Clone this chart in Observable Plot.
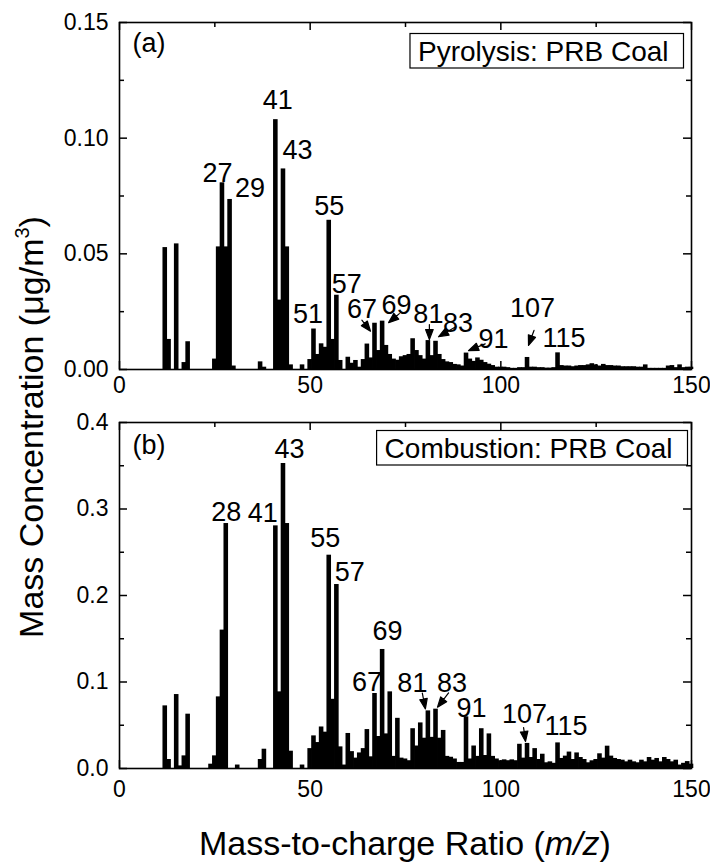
<!DOCTYPE html>
<html><head><meta charset="utf-8">
<script src="https://cdn.jsdelivr.net/npm/d3@7"></script>
<script src="https://cdn.jsdelivr.net/npm/@observablehq/plot@0.6"></script>
<style>
body{margin:0;background:#fff;}
#wrap{position:relative;width:710px;height:865px;font-family:"Liberation Sans",Arial,Helvetica,sans-serif;color:#000;overflow:hidden;}
#pa{position:absolute;left:0;top:0;}
#pb{position:absolute;left:0;top:405px;}
#ytitle{position:absolute;left:-269px;top:410px;width:600px;height:34px;line-height:34px;font-size:34px;text-align:center;white-space:nowrap;transform:rotate(-90deg);}
#xtitle{position:absolute;left:100px;top:826px;width:610px;height:34px;line-height:34px;font-size:34px;text-align:center;white-space:nowrap;}
.sup3{font-size:20px;position:relative;top:-14px;}
</style></head><body>
<div id="wrap">
  <div id="pa"></div>
  <div id="pb"></div>
  <div id="ytitle">Mass Concentration (μg/m<span class="sup3">3</span>)</div>
  <div id="xtitle">Mass-to-charge Ratio (<i>m/z</i>)</div>
</div>
<script>
// m/z categories
const mz = [12,13,14,15,16,17,18,19,20,21,22,23,24,25,26,27,28,29,30,31,32,33,34,35,36,37,38,39,40,41,42,43,44,45,46,47,48,49,50,51,52,53,54,55,56,57,58,59,60,61,62,63,64,65,66,67,68,69,70,71,72,73,74,75,76,77,78,79,80,81,82,83,84,85,86,87,88,89,90,91,92,93,94,95,96,97,98,99,100,101,102,103,104,105,106,107,108,109,110,111,112,113,114,115,116,117,118,119,120,121,122,123,124,125,126,127,128,129,130,131,132,133,134,135,136,137,138,139,140,141,142,143,144,145,146,147,148,149,150];

// (a) Pyrolysis: PRB Coal, µg/m3
const pyrolysis = [0.0527,0.013,0,0.0543,0,0.003,0.012,0,0,0,0,0,0,0.0045,0.053,0.0807,0.053,0.0735,0.0015,0,0,0,0,0,0,0.0033,0.001,0,0,0.108,0.030,0.0867,0.053,0.002,0,0,0.002,0,0.0043,0.0175,0.0065,0.0111,0.0096,0.0645,0.013,0.0321,0.0039,0,0.0053,0.0027,0.0039,0.001,0.0043,0.011,0.005,0.020,0.0082,0.0209,0.0104,0.0065,0.0045,0.004,0.0055,0.006,0.0065,0.0133,0.0082,0.006,0.0045,0.0125,0.006,0.0122,0.0065,0.0043,0.0033,0.003,0.0022,0.002,0.0015,0.0071,0.0045,0.0035,0.005,0.004,0.003,0.0023,0.0017,0.001,0.001,0.001,0.0008,0.0005,0.0005,0.0008,0.0008,0.0052,0.001,0.001,0.0008,0.0008,0.0006,0.0006,0.0008,0.0072,0.0017,0.0015,0.0015,0.0012,0.0015,0.0017,0.0017,0.002,0.0025,0.002,0.0015,0.0022,0.0017,0.0017,0.0015,0.0015,0.0012,0.0012,0.0012,0.0012,0.001,0.001,0.002,0.0005,0.0005,0.0005,0.0005,0.0005,0.0015,0.0017,0.0008,0.002,0.0008,0.001,0.001];

// (b) Combustion: PRB Coal, µg/m3
const combustion = [0.0724,0.0104,0,0.0855,0.003,0.0146,0.0628,0,0,0,0,0,0.005,0.0146,0.0828,0.160,0.2832,0,0,0.004,0,0,0,0,0,0.0104,0.0223,0,0,0.2805,0.0886,0.3526,0.2832,0.020,0,0,0.004,0,0.023,0.0377,0.030,0.048,0.042,0.2466,0.080,0.2127,0.025,0.004,0.0405,0.0195,0.012,0.018,0.023,0.045,0.0135,0.0867,0.037,0.1376,0.040,0.0886,0.014,0.058,0.012,0.011,0.009,0.046,0.026,0.0527,0.035,0.0666,0.036,0.0686,0.035,0.044,0.014,0.013,0.011,0.007,0.007,0.0597,0.011,0.026,0.014,0.046,0.015,0.040,0.014,0.011,0.009,0.010,0.009,0.010,0.009,0.028,0.012,0.029,0.0127,0.023,0.0104,0.0165,0.0066,0.0077,0.006,0.0296,0.0116,0.0143,0.019,0.0104,0.018,0.0127,0.0104,0.0066,0.0089,0.0104,0.017,0.012,0.0258,0.0143,0.0116,0.0104,0.0096,0.0077,0.0096,0.0077,0.0066,0.0096,0.0077,0.0127,0.0096,0.0116,0.0077,0.0127,0.0104,0.0077,0.0096,0.004,0.006,0.008,0.005];

// tick values
const xMajor = [0, 50, 100, 150];
const xMinor = [25, 75, 125];
const yMajorA = [0, 0.05, 0.10, 0.15];
const yMinorA = [0.025, 0.075, 0.125];
const yMajorB = [0, 0.1, 0.2, 0.3, 0.4];
const yMinorB = [0.05, 0.15, 0.25, 0.35];

// labelled peaks
const peaksA = [27, 29, 41, 43, 51, 55, 57, 67, 69, 81, 83, 91, 107, 115];
const peaksB = [28, 41, 43, 55, 57, 67, 69, 81, 83, 91, 107, 115];
const arrowPeaksA = [67, 69, 81, 83, 91, 107];
const arrowPeaksB = [81, 83, 107];

// annotation layout (pixel offsets from the bar top)
const labelOffA = {27:[-5,-1],29:[20,-2],41:[2,-11],43:[14,-10],51:[-6,-6],55:[0,-5],57:[10,-2],67:[-13,-5],69:[14,-7],81:[0,-18],83:[22,-9],91:[27,-5],107:[5,-40],115:[6,-6]};
const labelOffB = {28:[0,-3],41:[-13,-4],43:[6,-6],55:[-4,-8],57:[13,-4],67:[-8,-3],69:[5,-9],81:[-16,-19],83:[16,-17],91:[5,0],107:[-3,-20],115:[8,-8]};
// [dx, dy, rotate, length]
const arrowOffA = {67:[-4.5,8,142,14],69:[6,1.5,230,14],81:[1,-1,180,15],83:[2.5,-4.5,240,20],91:[2,-2.5,248,18],107:[1,-12,200,16]};
const arrowOffB = {81:[-3,-2,169,16],83:[1.5,-2,218,18],107:[-2,-2,172,14]};

const FONT = '"Liberation Sans", Arial, Helvetica, sans-serif';

const arrowShape = {
  draw(ctx, l) {
    const h = Math.min(10, l), w = 3.8;
    ctx.moveTo(0, 0);
    ctx.lineTo(0, -l + h);
    ctx.moveTo(0, -l);
    ctx.lineTo(-w, -l + h);
    ctx.lineTo(w, -l + h);
    ctx.closePath();
  }
};

function panel(cfg) {
  const W = 710, mL = 119, mR = 19;
  const iw = W - mL - mR;
  const ih = cfg.height - cfg.marginTop - cfg.marginBottom;
  const data = mz.map((m, i) => ({mz: m, v: cfg.values[i]})).filter(d => d.v > 0);
  const val = new Map(data.map(d => [d.mz, d.v]));
  const tk = {stroke: "black", strokeWidth: 1.5};
  const marks = [
    Plot.rectY(data, {x1: d => d.mz - 0.6, x2: d => d.mz + 0.6, y: "v", fill: "black"}),
    Plot.tickY(cfg.yMajor, {y: d => d, insetRight: iw - 8, ...tk}),
    Plot.tickY(cfg.yMinor, {y: d => d, insetRight: iw - 5, ...tk}),
    Plot.tickY(cfg.yMajor, {y: d => d, insetLeft: iw - 8, ...tk}),
    Plot.tickY(cfg.yMinor, {y: d => d, insetLeft: iw - 5, ...tk}),
    Plot.tickX(xMajor, {x: d => d, insetTop: ih - 8, ...tk}),
    Plot.tickX(xMinor, {x: d => d, insetTop: ih - 5, ...tk}),
    Plot.tickX(xMajor, {x: d => d, insetBottom: ih - 8, ...tk}),
    Plot.tickX(xMinor, {x: d => d, insetBottom: ih - 5, ...tk}),
    Plot.frame({stroke: "black", strokeWidth: 1.6}),
    Plot.axisY({ticks: cfg.yMajor, tickSize: 0, tickPadding: 11, tickFormat: cfg.yFmt, fontSize: 23, label: null}),
    Plot.axisX({ticks: xMajor, tickSize: 0, tickPadding: cfg.xPad, fontSize: 23, label: null}),
    Plot.text([cfg.tag], {frameAnchor: "top-left", text: d => d, dx: 13, dy: cfg.tagDy, lineAnchor: "top", textAnchor: "start", fontSize: 27, fill: "black"}),
    Plot.text([cfg.box], {frameAnchor: "top-right", text: d => d, dx: cfg.boxDx, dy: cfg.boxDy, lineAnchor: "bottom", textAnchor: "end", fontSize: 28, fill: "black"})
  ];
  for (const p of cfg.peaks) {
    const [dx, dy] = cfg.labelOff[p];
    marks.push(Plot.text([p], {x: d => d, y: d => val.get(d), text: d => String(d), dx, dy, lineAnchor: "bottom", textAnchor: "middle", fontSize: 27, fill: "black"}));
  }
  for (const p of cfg.arrows) {
    const [dx, dy, rot, len] = cfg.arrowOff[p];
    marks.push(Plot.vector([p], {x: d => d, y: d => val.get(d), anchor: "end", rotate: rot, length: len, dx, dy, shape: arrowShape, fill: "black", stroke: "black", strokeWidth: 1.2}));
  }
  return Plot.plot({
    width: W, height: cfg.height,
    marginLeft: mL, marginRight: mR, marginTop: cfg.marginTop, marginBottom: cfg.marginBottom,
    x: {domain: [0, 150]},
    y: {domain: cfg.yDomain},
    style: {fontFamily: FONT, fontSize: "23px", color: "black", background: "transparent", overflow: "visible"},
    marks
  });
}

function boxify(svg, label) {
  const texts = Array.from(svg.querySelectorAll("text")).filter(t => t.textContent.trim() === label);
  texts.forEach(t => {
    const b = t.getBBox();
    const r = document.createElementNS("http://www.w3.org/2000/svg", "rect");
    r.setAttribute("x", b.x - 8);
    r.setAttribute("y", b.y - 2);
    r.setAttribute("width", b.width + 23);
    r.setAttribute("height", b.height + 3.5);
    r.setAttribute("fill", "none");
    r.setAttribute("stroke", "black");
    r.setAttribute("stroke-width", 1.2);
    const tr = t.getAttribute("transform");
    if (tr) r.setAttribute("transform", tr);
    t.parentNode.insertBefore(r, t);
  });
}

const boxA = "Pyrolysis: PRB Coal";
const boxB = "Combustion: PRB Coal";

const pa = panel({
  values: pyrolysis, yDomain: [0, 0.15], yMajor: yMajorA, yMinor: yMinorA, yFmt: d3.format(".2f"),
  height: 405, marginTop: 22, marginBottom: 36, xPad: 7,
  tag: "(a)", tagDy: 10, box: boxA, boxDx: -23, boxDy: 38,
  peaks: peaksA, labelOff: labelOffA, arrows: arrowPeaksA, arrowOff: arrowOffA
});
document.getElementById("pa").appendChild(pa);
boxify(pa, boxA);

const pb = panel({
  values: combustion, yDomain: [0, 0.4], yMajor: yMajorB, yMinor: yMinorB, yFmt: d3.format(".1f"),
  height: 460, marginTop: 17, marginBottom: 97, xPad: 12,
  tag: "(b)", tagDy: 12, box: boxB, boxDx: -19, boxDy: 35,
  peaks: peaksB, labelOff: labelOffB, arrows: arrowPeaksB, arrowOff: arrowOffB
});
document.getElementById("pb").appendChild(pb);
boxify(pb, boxB);
</script>
</body></html>
